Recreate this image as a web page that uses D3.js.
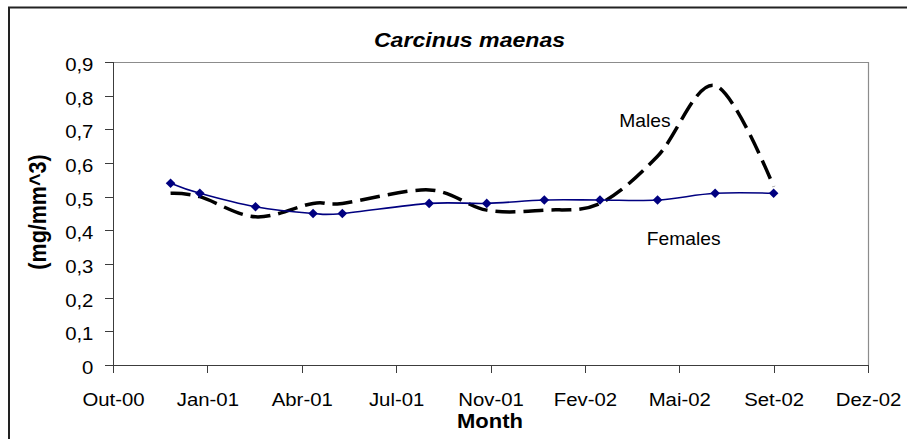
<!DOCTYPE html>
<html lang="pt">
  <head>
    <meta charset="UTF-8" />
    <title>Carcinus maenas</title>
    <style>
      body {
        margin: 0;
        background: #fff;
      }
      svg {
        display: block;
        font-family: "Liberation Sans", Arial, sans-serif;
      }
      .axis path,
      .axis line {
        stroke: #3c3c3c;
        shape-rendering: crispEdges;
      }
      .axis text {
        fill: #000;
      }
    </style>
  </head>
  <body>
    <svg width="907" height="439"></svg>
    <script src="https://d3js.org/d3.v7.min.js"></script>
    <script>
      // sampling dates
      const dates = [
        "2000-12-01", "2001-01-01", "2001-03-01", "2001-05-01",
        "2001-06-01", "2001-09-01", "2001-11-01", "2002-01-01",
        "2002-03-01", "2002-05-01", "2002-07-01", "2002-09-01"
      ];
      const females = [0.54, 0.51, 0.47, 0.45, 0.45, 0.48, 0.48, 0.49, 0.49, 0.49, 0.51, 0.51];
      const males = [0.51, 0.5, 0.44, 0.48, 0.48, 0.52, 0.46, 0.46, 0.48, 0.62, 0.83, 0.53];
      // x axis: ticks every 100 days from Out-00
      const xTickLabels = ["Out-00", "Jan-01", "Abr-01", "Jul-01", "Nov-01", "Fev-02", "Mai-02", "Set-02", "Dez-02"];
      const yTicks = [0, 0.1, 0.2, 0.3, 0.4, 0.5, 0.6, 0.7, 0.8, 0.9];

      let svg = d3.select("svg");
      let day = 24 * 3600 * 1000;
      let start = Date.UTC(2000, 9, 1);
      let tickDates = xTickLabels.map((d, i) => new Date(start + i * 100 * day));

      let plot = { left: 113, right: 868, top: 62, bottom: 365 };
      let x = d3.scaleUtc()
        .domain([tickDates[0], tickDates[tickDates.length - 1]])
        .range([plot.left, plot.right]);
      let y = d3.scaleLinear().domain([0, 0.9]).range([plot.bottom, plot.top]);

      let parse = d3.utcParse("%Y-%m-%d");
      let fem = dates.map((d, i) => ({ date: parse(d), v: females[i] }));
      let mal = dates.map((d, i) => ({ date: parse(d), v: males[i] }));

      // outer chart border
      svg.append("rect")
        .attr("x", 9).attr("y", 7.5)
        .attr("width", 1000).attr("height", 1000)
        .attr("fill", "none")
        .attr("stroke", "#222")
        .attr("stroke-width", 2);

      // plot area frame (top + right)
      svg.append("path")
        .attr("d", `M${plot.left},${plot.top + 0.5}H${plot.right + 0.5}V${plot.bottom}`)
        .attr("fill", "none")
        .attr("stroke", "#8c8c8c")
        .attr("stroke-width", 1.2);

      // y axis
      let yAxis = svg.append("g")
        .attr("class", "axis")
        .attr("transform", `translate(${plot.left},0)`)
        .call(d3.axisLeft(y).tickValues(yTicks).tickSizeOuter(0).tickSize(8)
          .tickFormat((d) => d3.format(".1~f")(d).replace(".", ",")));
      yAxis.selectAll("text")
        .attr("x", -17.8)
        .attr("dy", "0.45em")
        .style("font-size", "18.5px")
        .attr("transform", "scale(1.1,1)");

      // x axis
      let xAxis = svg.append("g")
        .attr("class", "axis")
        .attr("transform", `translate(0,${plot.bottom})`)
        .call(d3.axisBottom(x).tickValues(tickDates).tickSizeOuter(0).tickSize(8)
          .tickFormat((d, i) => xTickLabels[i]));
      xAxis.selectAll("text")
        .attr("y", 41.5)
        .attr("dy", null)
        .style("font-size", "18.5px")
        .attr("transform", "scale(1.1,1)");
      xAxis.selectAll(".tick").each(function () {
        // keep label centred under tick after horizontal stretch
        let t = d3.select(this);
        t.select("text").attr("transform", "scale(1.1,1)");
      });

      // lines (Excel-style smoothing)
      let line = d3.line()
        .x((d) => x(d.date))
        .y((d) => y(d.v))
        .curve(d3.curveCardinal.tension(0));

      svg.append("path")
        .datum(mal)
        .attr("d", line)
        .attr("fill", "none")
        .attr("stroke", "#000")
        .attr("stroke-width", 3.5)
        .attr("stroke-dasharray", "20,8");

      svg.append("path")
        .datum(fem)
        .attr("d", line)
        .attr("fill", "none")
        .attr("stroke", "#000080")
        .attr("stroke-width", 1.6);

      svg.selectAll(".marker")
        .data(fem)
        .enter()
        .append("path")
        .attr("class", "marker")
        .attr("d", d3.symbol(d3.symbolSquare, 46))
        .attr("fill", "#000080")
        .attr("transform", (d) => `translate(${x(d.date)},${y(d.v)}) rotate(45)`);

      // texts
      svg.append("text")
        .attr("transform", "translate(469.5,46.7) scale(1.1,1)")
        .attr("text-anchor", "middle")
        .style("font-size", "21px")
        .style("font-weight", "bold")
        .style("font-style", "italic")
        .text("Carcinus maenas");

      svg.append("text")
        .attr("transform", "translate(490,428) scale(1.1,1)")
        .attr("text-anchor", "middle")
        .style("font-size", "20px")
        .style("font-weight", "bold")
        .text("Month");

      svg.append("text")
        .attr("transform", "translate(45.5,212) rotate(-90) scale(1,1.1)")
        .attr("text-anchor", "middle")
        .style("font-size", "21.5px")
        .style("font-weight", "bold")
        .text("(mg/mm^3)");

      svg.append("text")
        .attr("transform", "translate(645,127.3) scale(1.04,1)")
        .attr("text-anchor", "middle")
        .style("font-size", "18.5px")
        .text("Males");

      svg.append("text")
        .attr("transform", "translate(683.7,245) scale(1.04,1)")
        .attr("text-anchor", "middle")
        .style("font-size", "18.5px")
        .text("Females");
    </script>
  </body>
</html>
